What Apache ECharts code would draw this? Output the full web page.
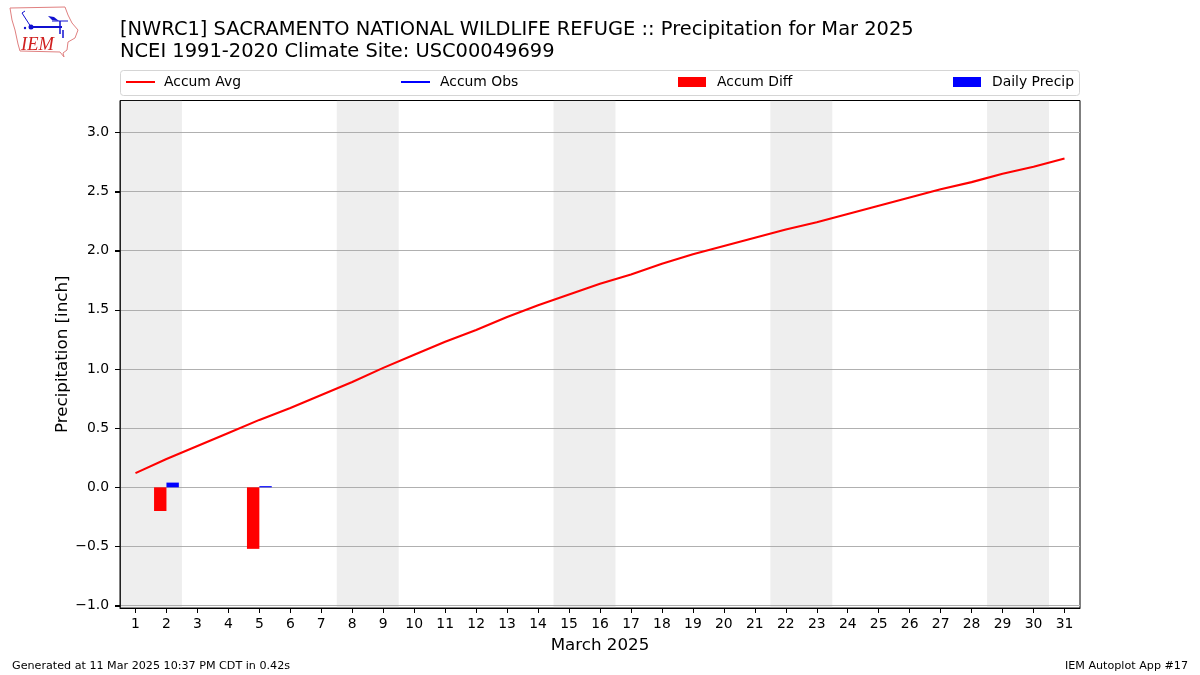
<!DOCTYPE html>
<html><head><meta charset="utf-8">
<script src="https://cdn.jsdelivr.net/npm/echarts@6/dist/echarts.min.js"></script>
<style>html,body{margin:0;background:#fff}#c{width:1200px;height:675px}</style></head>
<body><div id="c"></div>
<script>
const days = ['1','2','3','4','5','6','7','8','9','10','11','12','13','14','15','16','17','18','19','20','21','22','23','24','25','26','27','28','29','30','31'];
const accumAvg = [0.12,0.24,0.35,0.46,0.57,0.67,0.78,0.89,1.01,1.12,1.23,1.33,1.44,1.54,1.63,1.72,1.80,1.89,1.97,2.04,2.11,2.18,2.24,2.31,2.38,2.45,2.52,2.58,2.65,2.71,2.78];
const accumObs = [];
const accumDiff = [null,-0.20,null,null,-0.52,null,null,null,null,null,null,null,null,null,null,null,null,null,null,null,null,null,null,null,null,null,null,null,null,null,null];
const dailyPrecip = [null,0.04,null,null,0.01,null,null,null,null,null,null,null,null,null,null,null,null,null,null,null,null,null,null,null,null,null,null,null,null,null,null];
const weekendSpans = [[0.5,2.5],[7.5,9.5],[14.5,16.5],[21.5,23.5],[28.5,30.5]];
const yTicks = [-1,-0.5,0,0.5,1,1.5,2,2.5,3];
const FONT = 'DejaVu Sans';
const chart = echarts.init(document.getElementById('c'), null, {renderer:'canvas'});
const lg = (name,left,w,h,gap) => ({data:[name],left,top:75,orient:'horizontal',icon:'rect',itemWidth:w,itemHeight:h,itemGap:0,padding:0,
  textStyle:{fontFamily:FONT,fontSize:13.9,color:'#000',padding:[0,0,0,gap]},selectedMode:false});
const baseGraphic = [
    {type:'rect',z:-1,shape:{x:120.5,y:70.5,width:959,height:25,r:3},style:{fill:'#fff',stroke:'#d5d5d5',lineWidth:1}},
    {type:'polygon',shape:{points:[[10,8],[65,7],[68,15],[72,23],[78,30],[75,38],[68,42],[67,50],[63,53],[64,57],[60,52],[20,51],[18,44],[15,30],[12,20]]},style:{fill:'#fff',stroke:'#e08080',lineWidth:1}},
    {type:'text',style:{x:21,y:36,text:'IEM',fontFamily:'Liberation Serif',fontStyle:'italic',fontSize:18.5,fill:'#d02020'}},
    {type:'line',shape:{x1:30,y1:27,x2:62,y2:27},style:{stroke:'#1010d0',lineWidth:2}},
    {type:'line',shape:{x1:31,y1:27,x2:22,y2:13},style:{stroke:'#1010d0',lineWidth:1}},
    {type:'line',shape:{x1:22,y1:13,x2:25,y2:11},style:{stroke:'#1010d0',lineWidth:1}},
    {type:'circle',shape:{cx:31,cy:27,r:2.5},style:{fill:'#1010d0'}},
    {type:'polygon',shape:{points:[[48,16],[54,17],[59,21],[52,20]]},style:{fill:'#1010d0'}},
    {type:'line',shape:{x1:52,y1:21,x2:68,y2:21},style:{stroke:'#1010d0',lineWidth:1}},
    {type:'line',shape:{x1:60,y1:21,x2:60,y2:34},style:{stroke:'#1010d0',lineWidth:1.5}},
    {type:'line',shape:{x1:63,y1:30,x2:63,y2:38},style:{stroke:'#1010d0',lineWidth:1.5}},
    {type:'circle',shape:{cx:25,cy:28,r:1.2},style:{fill:'#1010d0'}}
];
chart.setOption({
  animation:false,
  backgroundColor:'#fff',
  title:[
    {text:'[NWRC1] SACRAMENTO NATIONAL WILDLIFE REFUGE :: Precipitation for Mar 2025\nNCEI 1991-2020 Climate Site: USC00049699',left:120,top:19,padding:0,
     textStyle:{fontFamily:FONT,fontSize:19.45,fontWeight:'normal',color:'#000',lineHeight:22}},
    {text:'Generated at 11 Mar 2025 10:37 PM CDT in 0.42s',left:12,top:661,padding:0,textStyle:{fontFamily:FONT,fontSize:11.15,fontWeight:'normal',color:'#000'}},
    {text:'IEM Autoplot App #17',right:12,top:661,padding:0,textStyle:{fontFamily:FONT,fontSize:11.15,fontWeight:'normal',color:'#000'}}
  ],
  legend:[lg('Accum Avg',126,29,2,4),lg('Accum Obs',401,29,2,5),lg('Accum Diff',678,28,10,6),lg('Daily Precip',953,28,10,6)],
  grid:{left:120,top:100.5,width:960,height:507.5,show:true,borderColor:'#000',borderWidth:1,backgroundColor:'transparent'},
  xAxis:[
    {type:'category',data:days,boundaryGap:true,name:'March 2025',nameLocation:'middle',nameGap:29,
     nameTextStyle:{fontFamily:FONT,fontSize:16.7,color:'#000'},
     axisLine:{show:true,onZero:false,lineStyle:{color:'#000'}},axisTick:{show:true,alignWithLabel:true,inside:false,length:5,lineStyle:{color:'#000',width:1}},
     axisLabel:{interval:0,fontFamily:FONT,fontSize:13.9,color:'#000',margin:9},splitLine:{show:false}},
    {type:'value',min:0.5,max:31.5,show:false,splitLine:{show:false}}
  ],
  yAxis:{type:'value',min:-1.02,max:3.27,position:'left',name:'Precipitation [inch]',nameLocation:'middle',nameGap:49,nameMoveOverlap:false,
     nameTextStyle:{fontFamily:FONT,fontSize:16.7,color:'#000'},
     axisLine:{show:true,onZero:false,lineStyle:{color:'#000'}},
     axisTick:{show:true,inside:false,length:5,lineStyle:{color:'#000',width:1},customValues:yTicks},
     axisLabel:{fontFamily:FONT,fontSize:13.9,color:'#000',margin:11,padding:[2,0,0,0],customValues:yTicks,
       formatter:v=>v.toFixed(1).replace('-','\u2212')},
     splitLine:{show:true,lineStyle:{color:'#b0b0b0',width:1}}},
  series:[
    {name:'shade',type:'line',xAxisIndex:1,data:[],z:0,silent:true,
     markArea:{silent:true,itemStyle:{color:'rgba(170,170,170,0.2)'},data:weekendSpans.map(s=>[{xAxis:s[0]},{xAxis:s[1]}])}},
    {name:'Accum Avg',type:'line',data:accumAvg,showSymbol:false,smooth:false,z:4,lineStyle:{color:'#ff0000',width:2.1},itemStyle:{color:'#ff0000'}},
    {name:'Accum Obs',type:'line',data:accumObs,showSymbol:false,z:4,lineStyle:{color:'#0000ff',width:2.1},itemStyle:{color:'#0000ff'}},
    {name:'Accum Diff',type:'bar',data:accumDiff,barWidth:12.4,barGap:0,z:3,itemStyle:{color:'#ff0000'}},
    {name:'Daily Precip',type:'bar',data:dailyPrecip,barWidth:12.4,barGap:0,z:3,itemStyle:{color:'#0000ff'}}
  ],
  graphic:baseGraphic
});
const tickMarks = yTicks.map(v => {
  const y = Math.round(chart.convertToPixel({yAxisIndex:0}, v)) + 0.5;
  return {type:'line',z:100,shape:{x1:115,y1:y,x2:120,y2:y},style:{stroke:'#000',lineWidth:1}};
});
chart.setOption({graphic:baseGraphic.concat(tickMarks)});
</script></body></html>
